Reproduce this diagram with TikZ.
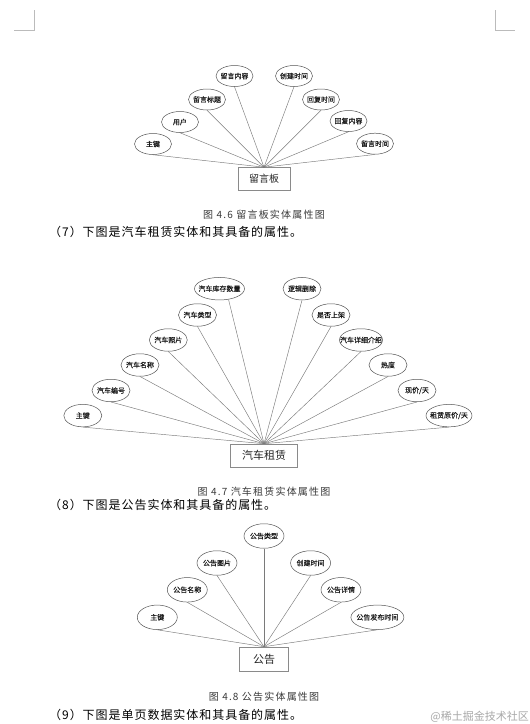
\documentclass[tikz,border=0pt]{standalone}
\usepackage{fontspec}
\usetikzlibrary{shapes.geometric}
\newfontfamily\cjk{Noto Sans CJK SC}
\newcommand\zt[1]{\makebox[0pt]{#1}}
\definecolor{edgegray}{HTML}{555555}
\definecolor{linegray}{HTML}{7A7A7A}
\definecolor{boxgray}{HTML}{8A8A8A}
\definecolor{capgray}{HTML}{3A3A3A}
\definecolor{markgray}{HTML}{BBBBBB}
\definecolor{wmgray}{HTML}{A8A8A8}
\tikzset{
  attr/.style={ellipse, draw=edgegray, line width=0.5pt, inner sep=0pt,
    minimum width=#1, text=black!90, font=\cjk\fontsize{7}{7}\selectfont\addfontfeature{FakeBold=0.15}},
  attr/.default=37,
  ent/.style={rectangle, draw=boxgray, line width=0.6pt, inner sep=0pt,
    text=black!85},
  link/.style={draw=linegray, line width=0.45pt},
  figcap/.style={inner sep=0pt, text=capgray, font=\cjk\fontsize{10}{10}\selectfont\addfontfeature{LetterSpace=12}},
  bodytext/.style={inner sep=0pt, anchor=west, text=black, font=\cjk\fontsize{12}{12}\selectfont\addfontfeature{LetterSpace=8}},
  cornermark/.style={draw=markgray, line width=0.8pt}
}
\begin{document}
\begin{tikzpicture}[x=1pt,y=-1pt]
\useasboundingbox[fill=white] (0,0) rectangle (530,724);
% corner marks
\coordinate (la) at (34,10); \coordinate (lb) at (34,30); \coordinate (lc) at (13.5,30);
\coordinate (ra) at (495.5,10); \coordinate (rb) at (495.5,30); \coordinate (rc) at (515,30);
\draw[cornermark] (la) -- (lb) -- (lc);
\draw[cornermark] (ra) -- (rb) -- (rc);

% ---------- Diagram 1 ----------
\node[ent, minimum width=52, minimum height=23, font=\cjk\fontsize{10}{10}\selectfont] (b1) at (264,179) {留言板};
\begin{scope}[minimum height=21]
\node[attr] (a11) at (153,144) {\zt{主键}};
\node[attr] (a12) at (180,122) {\zt{用户}};
\node[attr] (a13) at (207,99.5) {\zt{留言标题}};
\node[attr] (a14) at (234.5,76) {\zt{留言内容}};
\node[attr] (a15) at (294,76) {\zt{创建时间}};
\node[attr] (a16) at (321,99.5) {\zt{回复时间}};
\node[attr] (a17) at (348.5,121) {\zt{回复内容}};
\node[attr] (a18) at (375,143.7) {\zt{留言时间}};
\end{scope}
\foreach \i in {1,...,8} \draw[link] (a1\i.south) -- (b1.north);
\node[figcap] (c1) at (264,215) {图 4.6 留言板实体属性图};
\node[bodytext] (t7) at (49,232) {（7）下图是汽车租赁实体和其具备的属性。};

% ---------- Diagram 2 ----------
\node[ent, minimum width=67, minimum height=23, font=\cjk\fontsize{11}{11}\selectfont] (b2) at (264,455.5) {汽车租赁};
\begin{scope}[minimum height=22.5]
\node[attr=38] (a201) at (82.8,415.6) {\zt{主键}};
\node[attr=38] (a202) at (111,390.5) {\zt{汽车编号}};
\node[attr=38] (a203) at (140,365) {\zt{汽车名称}};
\node[attr=38] (a204) at (168.3,340) {\zt{汽车照片}};
\node[attr=38] (a205) at (197.5,315) {\zt{汽车类型}};
\node[attr=50] (a206) at (219.5,288.7) {\zt{汽车库存数量}};
\node[attr=38] (a207) at (302,288.7) {\zt{逻辑删除}};
\node[attr=38] (a208) at (331,315) {\zt{是否上架}};
\node[attr=43] (a209) at (361,340) {\zt{汽车详细介绍}};
\node[attr=38] (a210) at (388,365) {\zt{热度}};
\node[attr=38] (a211) at (417,390.5) {\zt{现价/天}};
\node[attr=46] (a212) at (449,415.6) {\zt{租赁原价/天}};
\end{scope}
\foreach \i in {01,02,03,04,05,07,08,09,10,11,12} \draw[link] (a2\i.south) -- (b2.north);
\draw[link] (a206.-50) -- (b2.north);
\node[figcap] (c2) at (264,491.5) {图 4.7 汽车租赁实体属性图};
\node[bodytext] (t8) at (49,505) {（8）下图是公告实体和其具备的属性。};

% ---------- Diagram 3 ----------
\node[ent, minimum width=49, minimum height=24, font=\cjk\fontsize{11}{11}\selectfont] (b3) at (264,659) {公告};
\begin{scope}[minimum height=24.5]
\node[attr=40] (a31) at (157.3,617.3) {\zt{主键}};
\node[attr=40] (a32) at (187.3,589.8) {\zt{公告名称}};
\node[attr=40] (a33) at (217,563) {\zt{公告图片}};
\node[attr=40] (a34) at (264,536) {\zt{公告类型}};
\node[attr=40] (a35) at (310.6,563) {\zt{创建时间}};
\node[attr=40] (a36) at (341,589.8) {\zt{公告详情}};
\node[attr=53] (a37) at (377.4,617.3) {\zt{公告发布时间}};
\end{scope}
\foreach \i in {1,...,7} \draw[link] (a3\i.south) -- (b3.north);
\node[figcap] (c3) at (264,697) {图 4.8 公告实体属性图};
\node[bodytext] (t9) at (49,715) {（9）下图是单页数据实体和其具备的属性。};
\node[inner sep=0pt, anchor=east, text=wmgray, font=\cjk\fontsize{11}{11}\selectfont] (wm) at (529,716.5) {@稀土掘金技术社区};
\end{tikzpicture}
\end{document}
